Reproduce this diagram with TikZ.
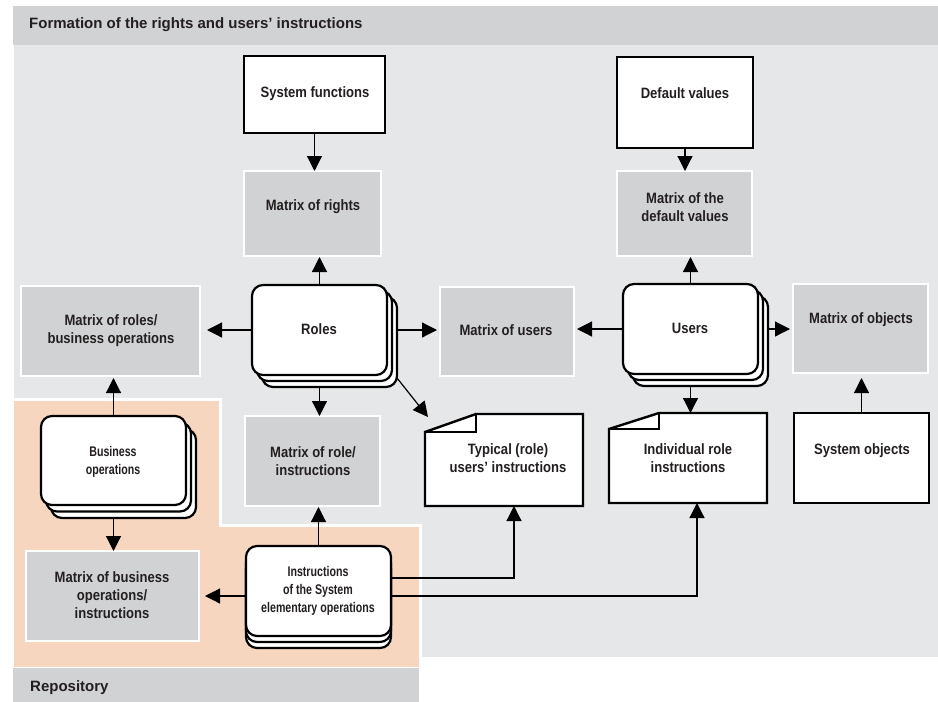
\documentclass[tikz,border=0pt]{standalone}
\usepackage{fontspec}
\setmainfont{Liberation Sans}
\newfontfamily\lblf[FakeStretch=0.87]{Liberation Sans}
\newfontfamily\narf[FakeStretch=0.76]{Liberation Sans}
\usetikzlibrary{arrows.meta}
\definecolor{hgray}{HTML}{D1D2D4}
\definecolor{lgray}{HTML}{E6E7E8}
\definecolor{peach}{HTML}{F7D6BF}
\definecolor{txtc}{HTML}{231F20}
\tikzset{
  lbl/.style={font=\lblf\bfseries\fontsize{15}{18}\selectfont, text=txtc, align=center, inner sep=0pt},
  nlbl/.style={font=\narf\bfseries\fontsize{14}{18}\selectfont, text=txtc, align=center, inner sep=0pt},
  ttl/.style={font=\bfseries\fontsize{15}{18}\selectfont, text=txtc, anchor=west, inner sep=0pt},
  wbox/.style={rectangle, draw=black, line width=2.4pt, fill=white, inner sep=0pt, outer sep=0pt},
  mbox/.style={rectangle, draw=white, line width=2.5pt, fill=hgray, inner sep=0pt, outer sep=0pt},
  card/.style={rectangle, draw=black, line width=2.2pt, fill=white, rounded corners=11pt, inner sep=0pt, outer sep=0pt},
  docb/.style={rectangle, draw=none, inner sep=0pt, outer sep=0pt},
  docline/.style={draw=black, line width=2.4pt, fill=white, line join=miter},
  arr/.style={-{Triangle[length=15pt,width=15pt]}, line width=1.2pt, draw=black},
  sz/.style 2 args={minimum width=#1, minimum height=#2}
}
\begin{document}
\begin{tikzpicture}[x=1pt,y=-1pt]
\useasboundingbox (0,0) rectangle (938,702);
% backgrounds
\fill[hgray] (13,6) rectangle (938,45);
\fill[lgray] (14,45) rectangle (938,657);
\filldraw[fill=peach, draw=white, line width=3pt] (12.5,399.5) -- (220.5,399.5) -- (220.5,525.5) -- (420.5,525.5) -- (420.5,668) -- (12.5,668) -- cycle;
\fill[white] (0,399) rectangle (13,702);
\fill[hgray] (13,668) rectangle (419,702);
\node[ttl] (hdr) at (29,25) {Formation of the rights and users’ instructions};
\node[ttl] (repo) at (30,688) {Repository};

% boxes
\node[wbox, sz={141pt}{77pt}] (sysf) at (314.5,94.5) {};
\node[mbox, sz={137pt}{85pt}] (mr) at (312.5,213.5) {};
\node[wbox, sz={136pt}{91pt}] (defv) at (685,102.5) {};
\node[mbox, sz={135pt}{85pt}] (mdv) at (684.5,213.5) {};
\node[mbox, sz={179pt}{90pt}] (mrb) at (110.5,331) {};
\node[mbox, sz={134pt}{89pt}] (mu) at (507,331.5) {};
\node[mbox, sz={135pt}{89pt}] (mo) at (860.5,328.5) {};
\node[mbox, sz={135pt}{90pt}] (mri) at (312.5,461) {};
\node[wbox, sz={135pt}{90pt}] (so) at (861.5,458) {};
\node[mbox, sz={173pt}{90pt}] (mbi) at (112.5,596) {};

% stacked cards
\node[card, sz={135pt}{90pt}] (roles3) at (329.5,342) {};
\node[card, sz={135pt}{90pt}] (roles2) at (324.5,336) {};
\node[card, sz={135pt}{90pt}] (roles) at (319.5,330) {};
\node[card, sz={135pt}{90pt}] (users3) at (700.5,341) {};
\node[card, sz={135pt}{90pt}] (users2) at (695.5,335) {};
\node[card, sz={135pt}{90pt}] (users) at (690.5,329) {};
\node[card, sz={145pt}{89pt}] (bus3) at (123.5,473.5) {};
\node[card, sz={145pt}{89pt}] (bus2) at (118.5,467) {};
\node[card, sz={145pt}{89pt}] (bus) at (113.5,460.5) {};
\node[card, sz={145pt}{90pt}] (instr3) at (318.5,603) {};
\node[card, sz={145pt}{90pt}] (instr2) at (318.5,597) {};
\node[card, sz={145pt}{90pt}] (instr) at (318.5,591) {};

% documents
\node[docb, sz={158pt}{92pt}] (typ) at (504,460) {};
\filldraw[docline] ([xshift=51pt]typ.north west) -- (typ.north east) -- (typ.south east) -- (typ.south west) -- ([yshift=-18pt]typ.north west) -- cycle;
\draw[docline, fill=none] ([yshift=-18pt]typ.north west) -- ([xshift=51pt,yshift=-18pt]typ.north west) -- ([xshift=51pt]typ.north west);
\node[docb, sz={158pt}{90pt}] (ind) at (688,458) {};
\filldraw[docline] ([xshift=50pt]ind.north west) -- (ind.north east) -- (ind.south east) -- (ind.south west) -- ([yshift=-16pt]ind.north west) -- cycle;
\draw[docline, fill=none] ([yshift=-16pt]ind.north west) -- ([xshift=50pt,yshift=-16pt]ind.north west) -- ([xshift=50pt]ind.north west);

% labels
\node[lbl] (tsysf) at (315,94) {System functions};
\node[lbl] (tmr) at (313,207) {Matrix of rights};
\node[lbl] (tdefv) at (685,93) {Default values};
\node[lbl] (tmdv) at (685,207) {Matrix of the\\default values};
\node[lbl] (tmrb) at (111,331) {Matrix of roles/\\business operations};
\node[lbl] (troles) at (319,329) {Roles};
\node[lbl] (tmu) at (506,330) {Matrix of users};
\node[lbl] (tusers) at (690,328) {Users};
\node[lbl] (tmo) at (861,320) {Matrix of objects};
\node[nlbl] (tbus) at (113,462) {Business\\operations};
\node[lbl] (tmri) at (313,461) {Matrix of role/\\instructions};
\node[lbl] (ttyp) at (508,458) {Typical (role)\\users’ instructions};
\node[lbl] (tind) at (688,458) {Individual role\\instructions};
\node[lbl] (tso) at (862,451) {System objects};
\node[lbl] (tmbi) at (112,595) {Matrix of business\\operations/\\instructions};
\node[nlbl] (tinstr) at (318,591) {Instructions\\of the System\\elementary operations};

% connectors
\draw[arr] (sysf.south) -- (sysf.south |- mr.north);
\draw[arr, shorten >=1pt] (roles.north) -- (roles.north |- mr.south);
\draw[arr, shorten >=7pt] (roles.west) -- (roles.west -| mrb.east);
\draw[arr, shorten >=3pt] (roles.east -| roles3.east) -- (roles.east -| mu.west);
\draw[arr] (roles.south |- roles3.south) -- (roles.south |- mri.north);
\draw[arr] ([yshift=9pt]roles3.south east) -- ([xshift=3pt,yshift=-3pt]typ.north west);
\draw[arr, shorten >=3pt] (users.west) -- (users.west -| mu.east);
\draw[arr, shorten >=1pt] (users.north) -- (users.north |- mdv.south);
\draw[arr] (users.south |- users3.south) -- (users.south |- ind.north);
\draw[arr, shorten >=3pt] (users.east -| users3.east) -- (users.east -| mo.west);
\draw[arr] (defv.south) -- (defv.south |- mdv.north);
\draw[arr, shorten >=5pt] (so.north) -- (so.north |- mo.south);
\draw[arr, shorten >=2pt] (bus.north) -- (bus.north |- mrb.south);
\draw[arr] (bus.south |- bus3.south) -- (bus.south |- mbi.north);
\draw[arr, shorten >=1pt] (instr.north) -- (instr.north |- mri.south);
\draw[arr, shorten >=6pt] ([yshift=-5pt]instr.west) -- ([yshift=-5pt]instr.west -| mbi.east);
\draw[arr] ([yshift=13pt]instr.east) -| ([xshift=10pt]typ.south);
\draw[arr] ([yshift=-5pt]instr.east) -| ([xshift=9pt]ind.south);
\end{tikzpicture}
\end{document}
